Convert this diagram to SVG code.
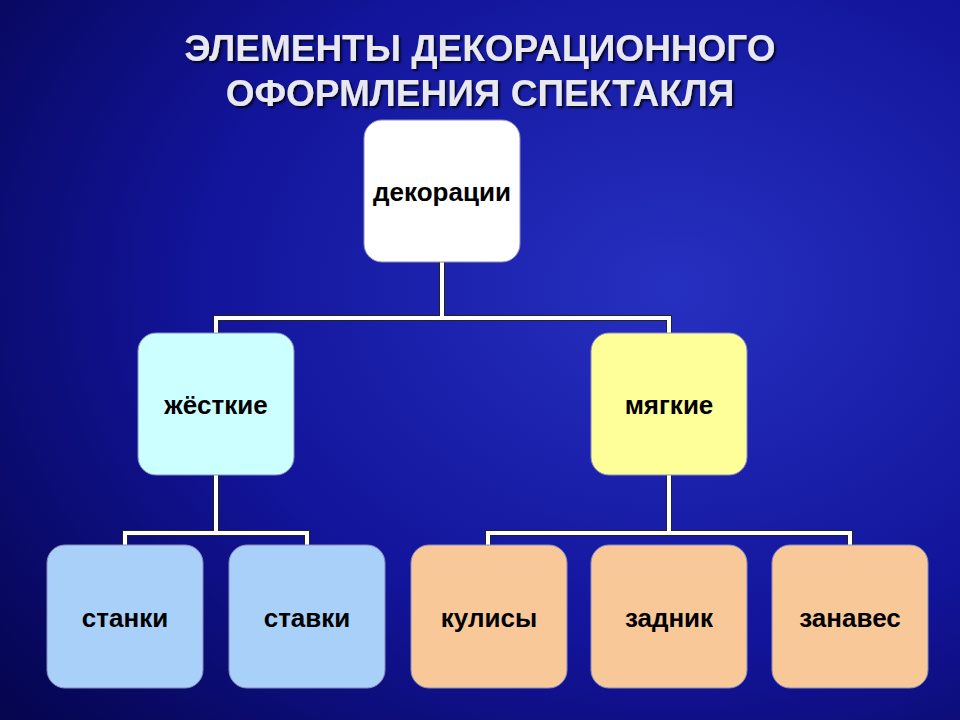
<svg xmlns="http://www.w3.org/2000/svg" width="960" height="720" viewBox="0 0 960 720">
<defs>
<radialGradient id="bg" cx="0.7" cy="0.4" r="0.9">
<stop offset="0" stop-color="#2630c0"/>
<stop offset="0.55" stop-color="#12149a"/>
<stop offset="1" stop-color="#050550"/>
</radialGradient>
<filter id="sh"><feDropShadow dx="2" dy="2" stdDeviation="1" flood-color="#000" flood-opacity="0.8"/></filter>
</defs>
<style>
.n{stroke:#8a8ac0;stroke-width:1}
.t{font-family:"Liberation Sans",Arial,sans-serif;font-weight:bold;font-size:26px;fill:#000;text-anchor:middle}
.ti{font-family:"Liberation Sans",Arial,sans-serif;font-weight:bold;font-size:37px;fill:#e8e8f0;text-anchor:middle}
.c{fill:none;stroke:#fff;stroke-width:4}
.co{fill:none;stroke:#222;stroke-width:6}
</style>
<rect width="960" height="720" fill="url(#bg)"/>
<g filter="url(#sh)">
<text class="ti" x="480" y="61">ЭЛЕМЕНТЫ ДЕКОРАЦИОННОГО</text>
<text class="ti" x="480" y="106">ОФОРМЛЕНИЯ СПЕКТАКЛЯ</text>
</g>
<g id="connectors">
<path class="co" d="M442 262V318M216 333V318H669V333M216 475V533M125 545V533H307V545M669 475V533M488 545V533H850V545"/>
<path class="c" d="M442 262V318M216 333V318H669V333M216 475V533M125 545V533H307V545M669 475V533M488 545V533H850V545"/>
</g>
<g id="dekoracii"><rect class="n" x="364" y="120" width="156" height="142" rx="18" fill="#fff"/><text class="t" x="442" y="201">декорации</text></g>
<g id="zhestkie"><rect class="n" x="138" y="333" width="156" height="142" rx="18" fill="#ccffff"/><text class="t" x="216" y="414">жёсткие</text></g>
<g id="myagkie"><rect class="n" x="591" y="333" width="156" height="142" rx="18" fill="#ffff99"/><text class="t" x="669" y="414">мягкие</text></g>
<g id="stanki"><rect class="n" x="47" y="545" width="156" height="143" rx="18" fill="#a8d0f8"/><text class="t" x="125" y="627">станки</text></g>
<g id="stavki"><rect class="n" x="229" y="545" width="156" height="143" rx="18" fill="#a8d0f8"/><text class="t" x="307" y="627">ставки</text></g>
<g id="kulisy"><rect class="n" x="411" y="545" width="156" height="143" rx="18" fill="#f8c898"/><text class="t" x="489" y="627">кулисы</text></g>
<g id="zadnik"><rect class="n" x="591" y="545" width="156" height="143" rx="18" fill="#f8c898"/><text class="t" x="669" y="627">задник</text></g>
<g id="zanaves"><rect class="n" x="772" y="545" width="156" height="143" rx="18" fill="#f8c898"/><text class="t" x="850" y="627">занавес</text></g>
</svg>
